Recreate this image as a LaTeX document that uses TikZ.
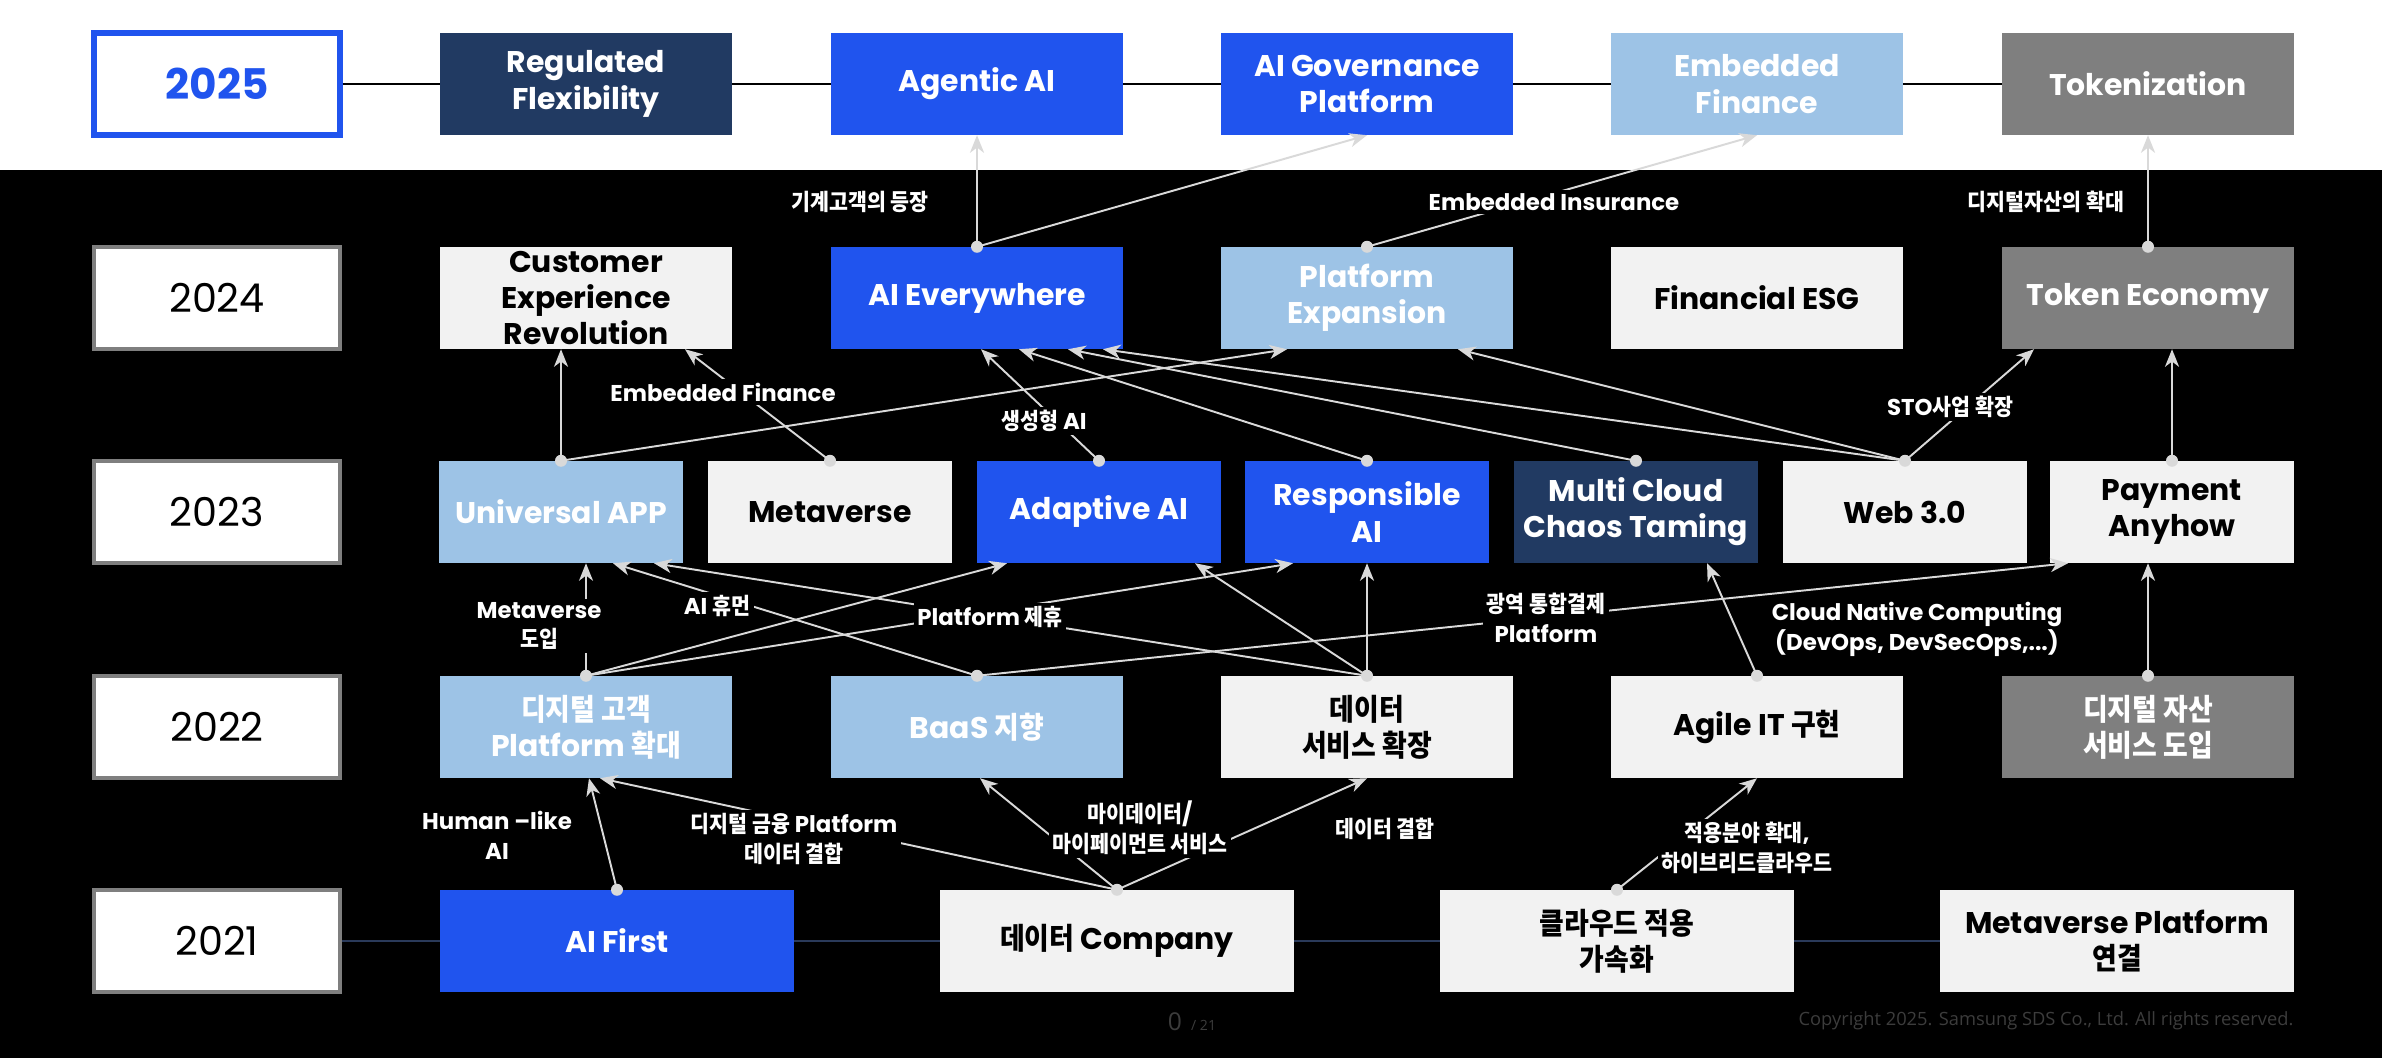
\documentclass[tikz,border=0pt]{standalone}
\usepackage{fontspec}
\setmainfont{Poppins}
\newfontfamily\krfont{Noto Sans CJK KR}[FakeStretch=0.9]
\newfontfamily\footfont{Open Sans}
\usetikzlibrary{arrows.meta}

\definecolor{navy}{RGB}{33,58,98}
\definecolor{sdsblue}{RGB}{32,84,238}
\definecolor{skyblue}{RGB}{157,195,230}
\definecolor{pale}{RGB}{242,242,242}
\definecolor{midgray}{RGB}{127,127,127}
\definecolor{linkgray}{RGB}{217,217,217}
\definecolor{rowline}{RGB}{42,58,90}
\definecolor{footgray}{RGB}{60,60,60}

\newcommand{\kr}[1]{{\krfont #1}}
\newcommand{\boxfont}{\fontsize{8.5pt}{10.3pt}\selectfont\bfseries}
\newcommand{\lblfont}{\fontsize{6.5pt}{8.5pt}\selectfont\bfseries}
\newcommand{\yearfont}{\fontsize{11.3pt}{13pt}\selectfont}

\tikzset{
  box/.style={minimum width=2.92cm, minimum height=1.01cm, inner sep=0pt,
    align=center, font=\boxfont, text=white},
  narrow/.style={box, minimum width=2.43cm},
  wide/.style={box, minimum width=3.54cm},
  navybox/.style={fill=navy},
  bluebox/.style={fill=sdsblue},
  skybox/.style={fill=skyblue},
  graybox/.style={fill=midgray},
  palebox/.style={fill=pale, text=black},
  yearbox/.style={draw=midgray, line width=1.1pt, fill=white,
    minimum width=2.46cm, minimum height=1.02cm, font=\yearfont},
  link/.style={draw=linkgray, line width=0.55pt,
    -{Stealth[length=5pt, width=4pt, inset=1.5pt]}},
  lbl/.style={fill=black, text=white, font=\lblfont, align=center, inner sep=1pt},
}

\begin{document}
\begin{tikzpicture}[x=0.01cm, y=-0.01cm]
  \useasboundingbox (0,0) rectangle (2382,1058);
  \fill[white] (0,0) rectangle (2382,170);
  \fill[black] (0,170) rectangle (2382,1058);

  % year column
  \node[yearbox, draw=sdsblue, line width=1.5pt, text=sdsblue, font=\fontsize{12pt}{14pt}\selectfont\bfseries] (y25) at (217,84) {2025};
  \node[yearbox] (y24) at (217,298) {2024};
  \node[yearbox] (y23) at (217,512) {2023};
  \node[yearbox] (y22) at (217,727) {2022};
  \node[yearbox] (y21) at (217,941) {2021};

  % 2025
  \draw[line width=0.6pt] (y25.east) -- (2200,84);
  \node[box, navybox] (reg) at (586,84) {Regulated\\Flexibility};
  \node[box, bluebox] (agentic) at (977,84) {Agentic AI};
  \node[box, bluebox] (aigov) at (1367,84) {AI Governance\\Platform};
  \node[box, skybox] (embfin) at (1757,84) {Embedded\\Finance};
  \node[box, graybox] (token) at (2148,84) {Tokenization};

  % 2024
  \node[box, palebox] (cx) at (586,298) {Customer\\Experience\\Revolution};
  \node[box, bluebox] (aiev) at (977,298) {AI Everywhere};
  \node[box, skybox] (platexp) at (1367,298) {Platform\\Expansion};
  \node[box, palebox] (esg) at (1757,298) {Financial ESG};
  \node[box, graybox] (tokeco) at (2148,298) {Token Economy};

  % 2023
  \node[narrow, skybox] (uapp) at (561,512) {Universal APP};
  \node[narrow, palebox] (meta) at (830,512) {Metaverse};
  \node[narrow, bluebox] (adapt) at (1099,512) {Adaptive AI};
  \node[narrow, bluebox] (resp) at (1367,512) {Responsible\\AI};
  \node[narrow, navybox] (multi) at (1636,512) {Multi Cloud\\Chaos Taming};
  \node[narrow, palebox] (web) at (1905,512) {Web 3.0};
  \node[narrow, palebox] (pay) at (2172,512) {Payment\\Anyhow};

  % 2022
  \node[box, skybox] (dcust) at (586,727) {\kr{디지털 고객}\\Platform \kr{확대}};
  \node[box, skybox] (baas) at (977,727) {BaaS \kr{지향}};
  \node[box, palebox] (dserv) at (1367,727) {\kr{데이터}\\\kr{서비스 확장}};
  \node[box, palebox] (agile) at (1757,727) {Agile IT \kr{구현}};
  \node[box, graybox] (dasset) at (2148,727) {\kr{디지털 자산}\\\kr{서비스 도입}};

  % 2021
  \draw[rowline, line width=0.8pt] (y21.east) -- (1990,941);
  \node[wide, bluebox] (aifirst) at (617,941) {AI First};
  \node[wide, palebox] (dcomp) at (1117,941) {\kr{데이터} Company};
  \node[wide, palebox] (cloud) at (1617,941) {\kr{클라우드 적용}\\\kr{가속화}};
  \node[wide, palebox] (metaplat) at (2117,941) {Metaverse Platform\\\kr{연결}};

  % links 2024 -> 2025
  \draw[link] (aiev.north) -- (agentic.south);
  \draw[link] (aiev.north) -- (aigov.south);
  \draw[link] (platexp.north) -- (embfin.south);
  \draw[link] (tokeco.north) -- (token.south);

  % links 2023 -> 2024
  \draw[link] (uapp.north) -- (uapp.north |- cx.south);
  \draw[link] (uapp.north) -- (platexp.south -| 1287,0);
  \draw[link] (meta.north) -- (cx.south -| 685,0);
  \draw[link] (adapt.north) -- (aiev.south -| 981,0);
  \draw[link] (resp.north) -- (aiev.south -| 1019,0);
  \draw[link] (multi.north) -- (aiev.south -| 1068,0);
  \draw[link] (web.north) -- (aiev.south -| 1103,0);
  \draw[link] (web.north) -- (platexp.south -| 1458,0);
  \draw[link] (web.north) -- (tokeco.south -| 2034,0);
  \draw[link] (pay.north) -- (pay.north |- tokeco.south);

  % links 2022 -> 2023
  \draw[link] (dcust.north) -- (dcust.north |- uapp.south);
  \draw[link] (dcust.north) -- (adapt.south -| 1007,0);
  \draw[link] (dcust.north) -- (resp.south -| 1293,0);
  \draw[link] (baas.north) -- (uapp.south -| 613,0);
  \draw[link] (baas.north) -- (pay.south -| 2068,0);
  \draw[link] (dserv.north) -- (uapp.south -| 654,0);
  \draw[link] (dserv.north) -- (adapt.south -| 1195,0);
  \draw[link] (dserv.north) -- (resp.south);
  \draw[link] (agile.north) -- (multi.south -| 1707,0);
  \draw[link] (dasset.north) -- (dasset.north |- pay.south);

  % links 2021 -> 2022
  \draw[link] (aifirst.north) -- (dcust.south -| 589,0);
  \draw[link] (dcomp.north) -- (dcust.south -| 600,0);
  \draw[link] (dcomp.north) -- (baas.south -| 980,0);
  \draw[link] (dcomp.north) -- (dserv.south);
  \draw[link] (cloud.north) -- (agile.south);

  \foreach \n in {aiev,platexp,tokeco,uapp,meta,adapt,resp,multi,web,pay,
                  dcust,baas,dserv,agile,dasset,aifirst,dcomp,cloud}
    \fill[linkgray] (\n.north) circle (6);

  % labels
  \node[lbl] (lmachine) at (860,202) {\kr{기계고객의 등장}};
  \node[lbl] (linsur) at (1554,202) {Embedded Insurance};
  \node[lbl] (ldigital) at (2046,202) {\kr{디지털자산의 확대}};
  \node[lbl] (lembfin) at (723,392) {Embedded Finance};
  \node[lbl] (lgen) at (1044,421) {\kr{생성형} AI};
  \node[lbl] (lsto) at (1950,407) {STO\kr{사업 확장}};
  \node[lbl] (lmetaintro) at (539,626) {Metaverse\\\kr{도입}};
  \node[lbl] (lhuman) at (717,606) {AI \kr{휴먼}};
  \node[lbl] (lpartner) at (990,617) {Platform \kr{제휴}};
  \node[lbl] (lpay) at (1546,618) {\kr{광역 통합결제}\\Platform};
  \node[lbl] (lcloudnat) at (1917,629) {Cloud Native Computing\\(DevOps, DevSecOps,...)};
  \node[lbl] (lhumanlike) at (497,835) {Human –like\\AI};
  \node[lbl] (lfinplat) at (794,839) {\kr{디지털 금융} Platform\\\kr{데이터 결합}};
  \node[lbl] (lmydata) at (1140,828) {\kr{마이데이터}/\\\kr{마이페이먼트 서비스}};
  \node[lbl] (ldatajoin) at (1385,829) {\kr{데이터 결합}};
  \node[lbl] (lhybrid) at (1747,848) {\kr{적용분야 확대},\\\kr{하이브리드클라우드}};

  % footer
  \node[text=footgray, font=\footfont, inner sep=0pt] (pagenum) at (1192,1022)
    {{\fontsize{7pt}{8pt}\selectfont 0} {\fontsize{4pt}{5pt}\selectfont / 21}};
  \node[text=footgray, font=\footfont\fontsize{5.2pt}{6pt}\selectfont, inner sep=0pt, anchor=east] (copy) at (2294,1021)
    {Copyright 2025. Samsung SDS Co., Ltd. All rights reserved.};
\end{tikzpicture}
\end{document}
